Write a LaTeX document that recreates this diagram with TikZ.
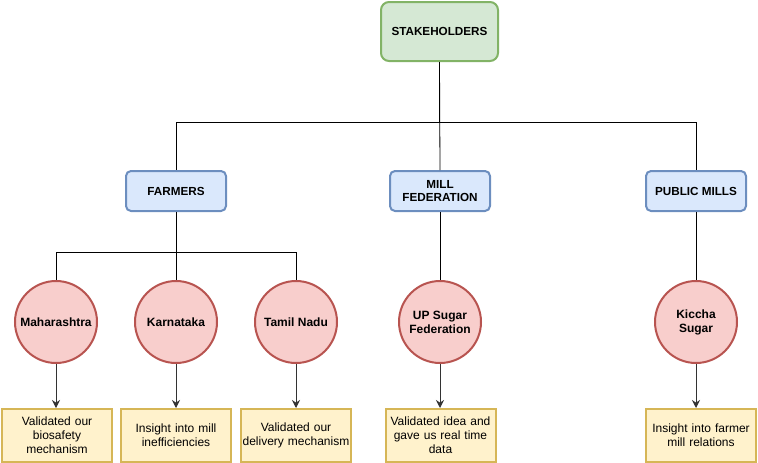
\documentclass[tikz,border=0pt]{standalone}
\usepackage{fontspec}
\setmainfont{Liberation Sans}
\definecolor{headgreen}{HTML}{D5E8D4}
\definecolor{headgreenline}{HTML}{82B366}
\definecolor{groupblue}{HTML}{DAE8FC}
\definecolor{groupblueline}{HTML}{6C8EBF}
\definecolor{placered}{HTML}{F8CECC}
\definecolor{placeredline}{HTML}{B85450}
\definecolor{noteyellow}{HTML}{FFF2CC}
\definecolor{noteyellowline}{HTML}{D6B656}
\usetikzlibrary{arrows.meta, positioning}

\begin{document}
\begin{tikzpicture}[x=1pt, y=-1pt,
  headbox/.style={draw=headgreenline, fill=headgreen, line width=2pt, rounded corners=8pt,
    minimum width=117pt, minimum height=59pt, font=\fontsize{11.7}{13}\selectfont\bfseries},
  groupbox/.style={draw=groupblueline, fill=groupblue, line width=2pt, rounded corners=5pt,
    minimum width=100pt, minimum height=40pt, align=center, inner sep=1pt,
    font=\fontsize{11.7}{13.5}\selectfont\bfseries},
  placenode/.style={circle, draw=placeredline, fill=placered, line width=2pt,
    minimum size=82pt, align=center, inner sep=0pt, font=\fontsize{12}{14}\selectfont\bfseries},
  notebox/.style={draw=noteyellowline, fill=noteyellow, line width=2pt,
    minimum width=110pt, minimum height=53pt, text width=108pt, align=center, inner sep=1pt,
    font=\fontsize{12}{14}\selectfont},
  link/.style={line width=0.8pt},
  arr/.style={line width=1pt, draw=black!80, -{Stealth[length=8pt, width=8pt]}}]
  \useasboundingbox (0,0) rectangle (758,463);

  % top
  \node[headbox] (stake) at (439.5, 31.5) {STAKEHOLDERS};

  % groups
  \node[groupbox] (farmers) at (176, 191) {FARMERS};
  \node[groupbox] (millfed) at (440, 191) {MILL\\FEDERATION};
  \node[groupbox] (pubmills) at (696, 191) {PUBLIC MILLS};

  % places
  \node[placenode] (mah) at (56, 322) {Maharashtra};
  \node[placenode] (kar) at (176, 322) {Karnataka};
  \node[placenode] (tn) at (296, 322) {Tamil Nadu};
  \node[placenode] (upsugar) at (440, 322) {UP Sugar\\Federation};
  \node[placenode] (kiccha) at (696, 322) {Kiccha\\Sugar};

  % outcomes
  \node[notebox] (mahnote) at (57, 435.5) {Validated our\\biosafety\\mechanism};
  \node[notebox] (karnote) at (176, 435.5) {Insight into mill\\inefficiencies};
  \node[notebox] (tnnote) at (296, 435.5) {Validated our\\delivery mechanism};
  \node[notebox] (upnote) at (440.5, 435.5) {Validated idea and\\gave us real time\\data};
  \node[notebox] (kicnote) at (701, 435.5) {Insight into farmer\\mill relations};

  % tree lines
  \draw[link] (stake.south) -- ++(0,60) -| (farmers.north);
  \draw[link] (stake.south) -- ++(0,60) -| (pubmills.north);
  \draw[link] (stake.south) -- (millfed.north);

  \draw[link] (farmers.south) -- ++(0,40) -| (mah.north);
  \draw[link] (farmers.south) -- ++(0,40) -| (tn.north);
  \draw[link] (farmers.south) -- (kar.north);
  \draw[link] (millfed.south) -- (upsugar.north);
  \draw[link] (pubmills.south) -- (kiccha.north);

  % arrows to outcomes
  \draw[arr] (mah.south) -- (mah.south |- mahnote.north);
  \draw[arr] (kar.south) -- (karnote.north);
  \draw[arr] (tn.south) -- (tnnote.north);
  \draw[arr] (upsugar.south) -- (upsugar.south |- upnote.north);
  \draw[arr] (kiccha.south) -- (kiccha.south |- kicnote.north);
\end{tikzpicture}
\end{document}
